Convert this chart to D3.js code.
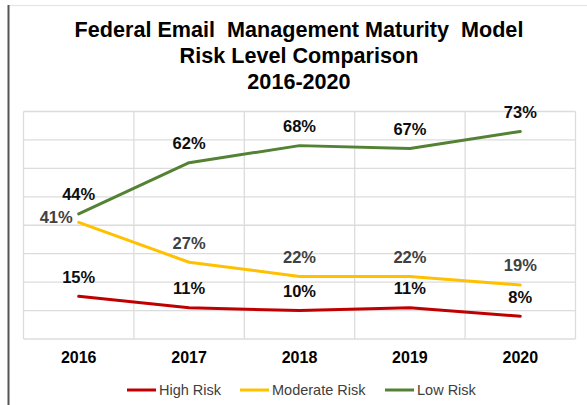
<!DOCTYPE html>
<html lang="en">
<head>
    <meta charset="UTF-8">
    <title>Federal Email Management Maturity Model</title>
    <script src="https://cdn.jsdelivr.net/npm/d3@7"></script>
    <style>
        body { margin: 0; background: #fff; }
        text { font-family: "Liberation Sans", Arial, sans-serif; }
    </style>
</head>
<body>
    <div id="chart-space"></div>

    <script>
        // Data
        var years = ["2016", "2017", "2018", "2019", "2020"];
        var highRisk = [0.15, 0.11, 0.10, 0.11, 0.08];
        var moderateRisk = [0.41, 0.27, 0.22, 0.22, 0.19];
        var lowRisk = [0.44, 0.62, 0.68, 0.67, 0.73];
        var seriesNames = ["High Risk", "Moderate Risk", "Low Risk"];
        var yTicks = [0, 0.1, 0.2, 0.3, 0.4, 0.5, 0.6, 0.7, 0.8];
        var titleLines = ["Federal Email  Management Maturity  Model", "Risk Level Comparison", "2016-2020"];

        var width = 587;
        var height = 405;
        var plot = {left: 23.5, right: 575.5, top: 111.5, bottom: 339};

        var series = [
            {name: seriesNames[0], values: highRisk, color: "#c00000", labelColor: "#0d0d0d"},
            {name: seriesNames[1], values: moderateRisk, color: "#ffc000", labelColor: "#404040"},
            {name: seriesNames[2], values: lowRisk, color: "#548235", labelColor: "#0d0d0d"}
        ];

        var svg = d3.select("#chart-space")
            .append("svg")
            .attr("width", width)
            .attr("height", height);

        // frame edges of the cropped chart box
        svg.append("line")
            .attr("x1", 9).attr("x2", width)
            .attr("y1", 5.5).attr("y2", 5.5)
            .attr("stroke", "#e3e3e3");
        svg.append("line")
            .attr("x1", 8.5).attr("x2", 8.5)
            .attr("y1", 5).attr("y2", height)
            .attr("stroke", "#555")
            .attr("stroke-width", 2);

        // title
        svg.append("text")
            .attr("text-anchor", "middle")
            .style("font-size", "21.6px")
            .style("font-weight", "bold")
            .attr("fill", "#000")
            .selectAll("tspan")
            .data(titleLines)
            .join("tspan")
            .attr("x", 299)
            .attr("y", function(d, i) { return 37 + i * 26; })
            .style("white-space", "pre")
            .text(function(d) { return d; });

        var xScale = d3.scaleBand()
            .domain(years)
            .range([plot.left, plot.right])
            .padding(0);

        var yScale = d3.scaleLinear()
            .domain([0, 0.8])
            .range([plot.bottom, plot.top]);

        // gridlines
        svg.append("g")
            .selectAll("line")
            .data(yTicks)
            .join("line")
            .attr("x1", plot.left).attr("x2", plot.right)
            .attr("y1", function(d) { return yScale(d); })
            .attr("y2", function(d) { return yScale(d); })
            .attr("stroke", "#dcdcdc")
            .attr("stroke-width", 1.3);

        var xEdges = years.map(function(y) { return xScale(y); }).concat([plot.right]);
        svg.append("g")
            .selectAll("line")
            .data(xEdges)
            .join("line")
            .attr("x1", function(d) { return d; })
            .attr("x2", function(d) { return d; })
            .attr("y1", plot.top).attr("y2", plot.bottom)
            .attr("stroke", "#dcdcdc")
            .attr("stroke-width", 1.3);

        // x axis labels
        var xAxis = svg.append("g")
            .attr("transform", "translate(0," + plot.bottom + ")")
            .call(d3.axisBottom(xScale).tickSize(0).tickPadding(13));
        xAxis.select(".domain").remove();
        xAxis.selectAll("text")
            .style("font-size", "16px")
            .style("font-weight", "bold")
            .style("font-family", "'Liberation Sans', Arial, sans-serif")
            .attr("fill", "#000");

        var cx = function(i) { return xScale(years[i]) + xScale.bandwidth() / 2; };

        var line = d3.line()
            .x(function(d, i) { return cx(i); })
            .y(function(d) { return yScale(d); });

        svg.append("g")
            .selectAll("path")
            .data(series)
            .join("path")
            .attr("d", function(s) { return line(s.values); })
            .attr("fill", "none")
            .attr("stroke", function(s) { return s.color; })
            .attr("stroke-width", 3)
            .attr("stroke-linejoin", "round")
            .attr("stroke-linecap", "round");

        // data labels
        series.forEach(function(s) {
            svg.append("g")
                .selectAll("text")
                .data(s.values)
                .join("text")
                .attr("x", function(d, i) {
                    // the first moderate label sits to the left of its point
                    if (s.name === "Moderate Risk" && i === 0) return cx(i) - 6;
                    return cx(i);
                })
                .attr("y", function(d, i) {
                    if (s.name === "Moderate Risk" && i === 0) return yScale(d) + 1;
                    return yScale(d) - 13.5;
                })
                .attr("text-anchor", function(d, i) {
                    return (s.name === "Moderate Risk" && i === 0) ? "end" : "middle";
                })
                .style("font-size", "16.5px")
                .style("font-weight", "bold")
                .attr("fill", s.labelColor)
                .text(function(d) { return Math.round(d * 100) + "%"; });
        });

        // legend
        var legendX = [127, 240, 385];
        var legend = svg.append("g")
            .selectAll("g")
            .data(series)
            .join("g")
            .attr("transform", function(s, i) { return "translate(" + legendX[i] + ",390)"; });

        legend.append("line")
            .attr("x1", 0).attr("x2", 29)
            .attr("stroke", function(s) { return s.color; })
            .attr("stroke-width", 3);

        legend.append("text")
            .attr("x", 32)
            .attr("y", 5)
            .style("font-size", "14.5px")
            .attr("fill", "#404040")
            .text(function(s) { return s.name; });
    </script>
</body>
</html>
